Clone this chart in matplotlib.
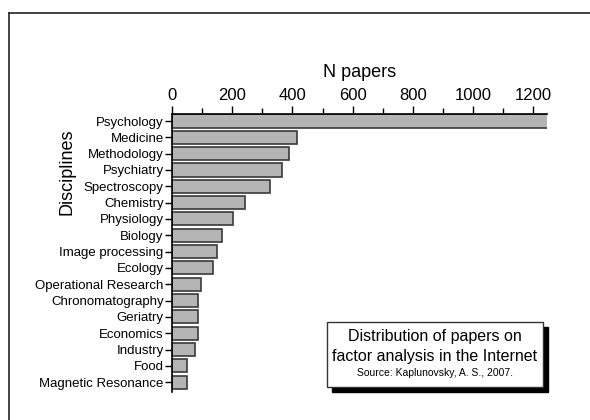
import matplotlib.pyplot as plt
from matplotlib.patches import Rectangle
from matplotlib.ticker import MultipleLocator

disciplines = ['Psychology', 'Medicine', 'Methodology', 'Psychiatry', 'Spectroscopy',
               'Chemistry', 'Physiology', 'Biology', 'Image processing', 'Ecology',
               'Operational Research', 'Chronomatography', 'Geriatry', 'Economics',
               'Industry', 'Food', 'Magnetic Resonance']
papers = [1250, 416, 390, 365, 324, 243, 201, 165, 150, 137, 95, 87, 88, 85, 77, 50, 50]

plt.rcParams['font.family'] = ['Liberation Sans', 'DejaVu Sans']

fig = plt.figure(figsize=(5.9, 4.2), dpi=100)
ax = fig.add_axes([0.2915, 0.0667, 0.927 - 0.2915, 0.7286 - 0.0667])

pos = list(range(len(disciplines)))
ax.barh(pos, papers, height=0.8, color='#b4b4b4', edgecolor='#3a3a3a', linewidth=1.2)
ax.set_ylim(16.6, -0.43)
ax.set_xlim(0, 1245)
ax.set_yticks(pos)
ax.set_yticklabels(disciplines, fontsize=9.5)

ax.xaxis.tick_top()
ax.xaxis.set_label_position('top')
ax.xaxis.set_major_locator(MultipleLocator(200))
ax.xaxis.set_minor_locator(MultipleLocator(100))
ax.tick_params(axis='x', which='major', labelsize=12, length=6, width=1, pad=2)
ax.tick_params(axis='x', which='minor', length=4, width=1)
ax.tick_params(axis='y', length=5, width=1, pad=1)
ax.set_xlabel('N papers', fontsize=13, labelpad=8)

for s in ['right', 'bottom']:
    ax.spines[s].set_visible(False)
for s in ['top', 'left']:
    ax.spines[s].set_linewidth(1.2)

fig.text(0.113, 1 - 172 / 420, 'Disciplines', rotation=90, fontsize=13,
         ha='center', va='center')

# outer frame (top and left visible)
fig.add_artist(plt.Line2D([9 / 590, 1.0], [1 - 13 / 420] * 2, color='#222222', lw=1.2))
fig.add_artist(plt.Line2D([9 / 590] * 2, [0, 1 - 13 / 420], color='#222222', lw=1.2))

# annotation box with shadow
x0, x1 = 327 / 590, 543 / 590
y0, y1 = 1 - 387 / 420, 1 - 322 / 420
dx, dy = 5 / 590, 5 / 420
fig.add_artist(Rectangle((x0 + dx, y0 - dy), x1 - x0, y1 - y0, transform=fig.transFigure,
                         facecolor='black', edgecolor='black'))
fig.add_artist(Rectangle((x0, y0), x1 - x0, y1 - y0, transform=fig.transFigure,
                         facecolor='white', edgecolor='#333333', lw=1))
cx = (x0 + x1) / 2
fig.text(cx, 1 - 336 / 420, 'Distribution of papers on', fontsize=11.5, ha='center', va='center')
fig.text(cx, 1 - 356 / 420, 'factor analysis in the Internet', fontsize=11.5, ha='center', va='center')
fig.text(cx, 1 - 373 / 420, 'Source: Kaplunovsky, A. S., 2007.', fontsize=7.5, ha='center', va='center')

fig.savefig('out.png', dpi=100)
